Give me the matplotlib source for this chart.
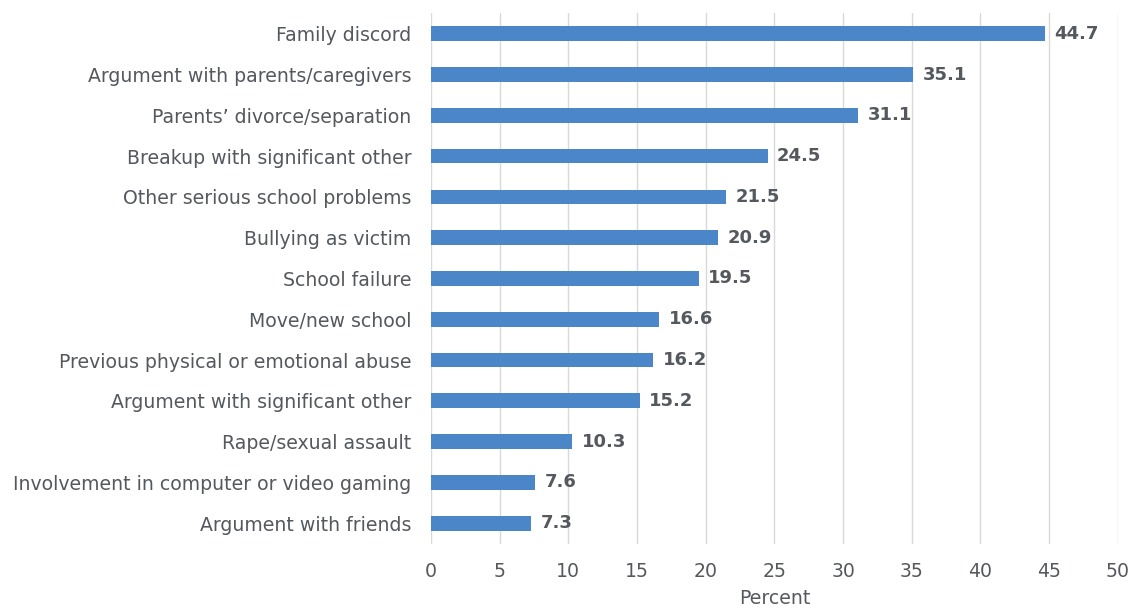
import matplotlib
matplotlib.use("Agg")
import matplotlib.pyplot as plt

# ── Data ──────────────────────────────────────────────────────────────────────
categories = [
    "Family discord",
    "Argument with parents/caregivers",
    "Parents’ divorce/separation",
    "Breakup with significant other",
    "Other serious school problems",
    "Bullying as victim",
    "School failure",
    "Move/new school",
    "Previous physical or emotional abuse",
    "Argument with significant other",
    "Rape/sexual assault",
    "Involvement in computer or video gaming",
    "Argument with friends",
]
values = [44.7, 35.1, 31.1, 24.5, 21.5, 20.9, 19.5, 16.6, 16.2, 15.2, 10.3, 7.6, 7.3]
x_ticks = [0, 5, 10, 15, 20, 25, 30, 35, 40, 45, 50]

TEXT = "#55595e"
BAR = "#4a86c8"

fig = plt.figure(figsize=(11.28, 6.08), dpi=100)
ax = fig.add_axes([0.382, 0.106, 0.609, 0.872])

ypos = list(range(len(categories)))
ax.barh(ypos, values, height=0.36, color=BAR, zorder=3)
for y, v in zip(ypos, values):
    ax.text(v + 0.7, y, f"{v:.1f}", va="center", ha="left",
            fontsize=13, fontweight="bold", color=TEXT)

ax.set_ylim(len(categories) - 0.5, -0.5)
ax.set_xlim(0, 50)
ax.set_xticks(x_ticks)
ax.set_yticks(ypos)
ax.set_yticklabels(categories)
ax.tick_params(axis="both", length=0, labelsize=13.6, colors=TEXT)
ax.tick_params(axis="x", pad=13)
ax.tick_params(axis="y", pad=14)
ax.grid(axis="x", color="#d9d9d9", lw=1, zorder=0)
for s in ax.spines.values():
    s.set_visible(False)
ax.set_xlabel("Percent", fontsize=13.6, color=TEXT, labelpad=6)

plt.savefig("out.png", dpi=100)
plt.close()
